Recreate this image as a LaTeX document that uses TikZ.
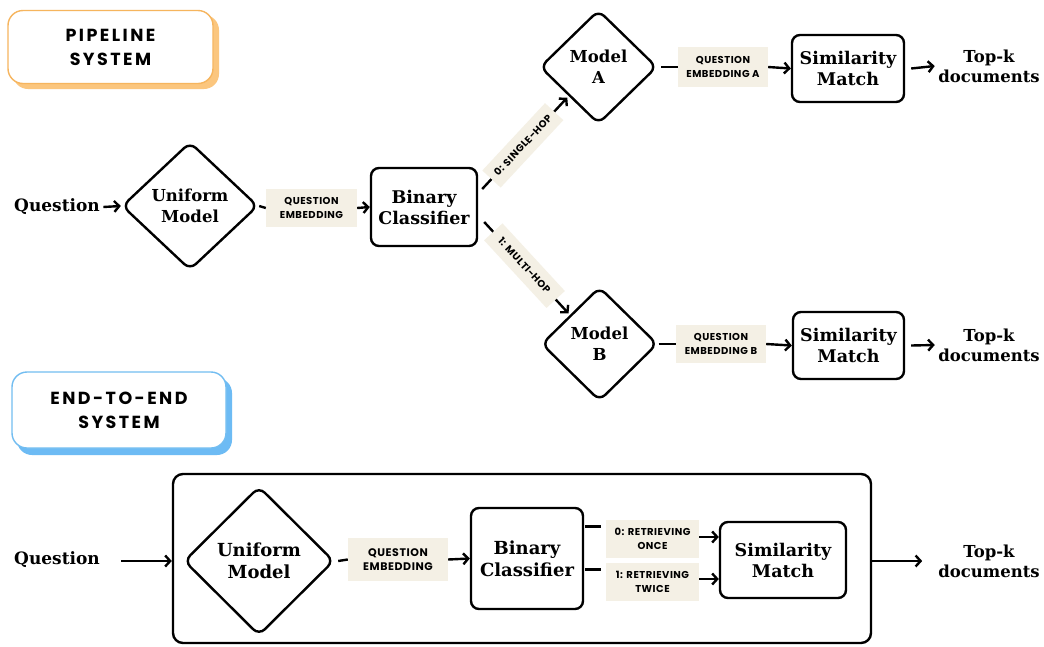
\documentclass[tikz,border=0pt]{standalone}
\usepackage{fontspec}
\usetikzlibrary{shapes.geometric,arrows.meta,calc}
\newfontfamily\slab{DejaVu Serif}
\newfontfamily\lbl[LetterSpace=5]{Poppins}
\newfontfamily\hdr[LetterSpace=14]{Poppins}
\definecolor{beige}{HTML}{F4F0E5}
\definecolor{orline}{HTML}{F6B55E}
\definecolor{orshadow}{HTML}{FBC67E}
\definecolor{bline}{HTML}{72BDF1}
\definecolor{bshadow}{HTML}{6DBBF4}
\tikzset{
  x=1pt, y=-1pt,
  conn/.style={line width=2.4pt, -{Straight Barb[length=5pt,width=11pt,line width=2.4pt]}},
  plain/.style={line width=2.4pt},
  mbox/.style={draw, line width=2.4pt, rounded corners=8pt, align=center, font=\slab\bfseries\fontsize{17.5}{21}\selectfont},
  dmd/.style={draw, diamond, line width=2.4pt, rounded corners=8pt, inner sep=0pt, align=center, font=\slab\bfseries\fontsize{16.5}{21}\selectfont},
  txt/.style={align=center, font=\slab\bfseries\fontsize{16.5}{20}\selectfont},
  lab/.style={fill=beige, align=center, inner sep=0pt, font=\lbl\bfseries\fontsize{10}{13.5}\selectfont},
  hdrbox/.style={draw, line width=1.4pt, rounded corners=15pt, fill=white, align=center, font=\hdr\bfseries\fontsize{17.5}{24}\selectfont},
}
\begin{document}
\begin{tikzpicture}
\useasboundingbox (0,0) rectangle (1044,646);
\fill[white] (0,0) rectangle (1044,646);

% headers
\fill[orshadow, rounded corners=15pt] (13,15) rectangle (219,89);
\node[hdrbox, draw=orline, minimum width=205pt, minimum height=73pt] (h1) at (110.5,47) {PIPELINE\\SYSTEM};
\fill[bshadow, rounded corners=15pt] (17,378) rectangle (232,455);
\node[hdrbox, draw=bline, minimum width=214pt, minimum height=76pt] (h2) at (119,410) {END-TO-END\\SYSTEM};

% ---------------- pipeline ----------------
\node[txt, font=\slab\bfseries\fontsize{17}{20}\selectfont] (q1) at (57,207) {Question};
\node[dmd, minimum width=136pt, minimum height=128pt] (um1) at (190,206) {Uniform\\Model};
\node[lab, minimum width=91pt, minimum height=38pt] (qe1) at (311.5,208) {QUESTION\\EMBEDDING};
\node[mbox, minimum width=106pt, minimum height=78pt] (bc1) at (424,207) {Binary\\Classifier};
\node[dmd, minimum width=117pt, minimum height=114pt] (ma) at (598.5,67) {Model\\A};
\node[dmd, minimum width=116pt, minimum height=114pt] (mb) at (599.5,344) {Model\\B};
\node[lab, minimum width=90pt, minimum height=40pt] (qea) at (723,67) {QUESTION\\EMBEDDING A};
\node[lab, minimum width=90pt, minimum height=38pt] (qeb) at (721,344) {QUESTION\\EMBEDDING B};
\node[mbox, minimum width=112pt, minimum height=67pt] (sma) at (848,68.5) {Similarity\\Match};
\node[mbox, minimum width=111pt, minimum height=67pt] (smb) at (848.5,345.5) {Similarity\\Match};
\node[txt] (ta) at (989,66) {Top-k\\documents};
\node[txt] (tb) at (989,345) {Top-k\\documents};

\draw[conn] (q1.east) -- (um1.west);
\draw[plain] (um1.east) -- (qe1.west);
\draw[conn] (qe1.east) -- (bc1.west);
\coordinate (s1) at ($(bc1.east)+(4,-18)$);
\coordinate (s2) at ($(bc1.east)+(6,15)$);
\draw[conn, shorten >=2pt] (s1) -- node[lab, sloped, minimum width=92pt, minimum height=25pt, pos=0.47] {0: SINGLE-HOP} (ma.south west);
\draw[conn, shorten >=2pt] (s2) -- node[lab, sloped, minimum width=92pt, minimum height=25pt, pos=0.47] {1: MULTI-HOP} (mb.north west);
\draw[plain] (ma.east) ++(3,0) -- (qea.west);
\draw[conn] (qea.east) -- (sma.west);
\draw[plain] (mb.east) -- (qeb.west);
\draw[conn] (qeb.east) -- (smb.west);
\draw[conn] (sma.east) ++(6,0) -- (ta.west);
\draw[conn] (smb.east) ++(6,0) -- (tb.west);

% ---------------- end-to-end ----------------
\node[draw, line width=2.4pt, rounded corners=10pt, minimum width=698pt, minimum height=169pt] (big) at (522,558.5) {};
\node[txt, font=\slab\bfseries\fontsize{17}{20}\selectfont] (q2) at (57,560) {Question};
\node[dmd, minimum width=150pt, minimum height=149pt, font=\slab\bfseries\fontsize{18}{22}\selectfont] (um2) at (259,561) {Uniform\\Model};
\node[lab, minimum width=100pt, minimum height=43pt, font=\lbl\bfseries\fontsize{11}{14.5}\selectfont] (qe2) at (398,559.5) {QUESTION\\EMBEDDING};
\node[mbox, minimum width=112pt, minimum height=101pt, font=\slab\bfseries\fontsize{18}{22}\selectfont] (bc2) at (527,558.5) {Binary\\Classifier};
\node[lab, minimum width=93pt, minimum height=38pt] (r0) at (652.5,539) {0: RETRIEVING\\ONCE};
\node[lab, minimum width=93pt, minimum height=38pt] (r1) at (652.5,582) {1: RETRIEVING\\TWICE};
\node[mbox, minimum width=126pt, minimum height=76pt] (sm2) at (783,560) {Similarity\\Match};
\node[txt] (t2) at (989,561) {Top-k\\documents};

\draw[conn] (q2.east) ++(18,1) -- (big.west |- 0,561);
\draw[plain] (um2.east) ++(3,0) -- (qe2.west);
\draw[conn] (qe2.east) -- (bc2.west);
\draw[plain] ($(bc2.east)+(1,-32)$) -- ++(16,0) coordinate (c0);
\draw[plain] ($(bc2.east)+(1,11)$) -- ++(16,0) coordinate (c1);
\draw[conn] (r0.east |- 0,537) -- (sm2.west |- 0,537);
\draw[conn] (r1.east |- 0,579) -- (sm2.west |- 0,579);
\draw[conn] (big.east |- 0,561) -- ++(50,0) coordinate (e2);
\end{tikzpicture}
\end{document}
